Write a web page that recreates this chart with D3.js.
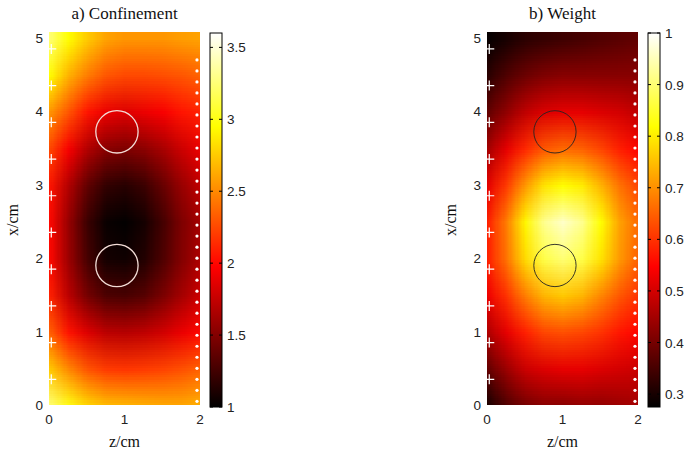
<!doctype html>
<html>
<head>
    <script src="https://d3js.org/d3.v7.min.js"></script>
    <style>
        body { margin: 0; background: #fff; }
        .tick-label { font-family: "Liberation Sans", Arial, sans-serif; font-size: 13.5px; fill: #222; }
        .serif { font-family: "Liberation Serif", "DejaVu Serif", serif; fill: #111; }
    </style>
</head>
<body>

    <svg width="691" height="455"></svg>

    <script>
        // grid nodes (cm)
        var zCols = [0, 0.25, 0.5, 0.75, 1, 1.25, 1.5, 1.75, 2];
        var xRows = [0, 0.5, 1, 1.5, 2, 2.5, 3, 3.5, 4, 4.5, 5];

        // a) confinement, one row per xRows entry (x = 0 first)
        var confinement = [
            [3.25, 3.00, 2.80, 2.70, 2.68, 2.65, 2.63, 2.62, 2.65],
            [2.75, 2.50, 2.30, 2.20, 2.18, 2.20, 2.23, 2.28, 2.35],
            [2.35, 2.05, 1.85, 1.72, 1.70, 1.73, 1.80, 1.90, 2.00],
            [2.10, 1.72, 1.45, 1.30, 1.28, 1.33, 1.47, 1.63, 1.78],
            [2.00, 1.60, 1.27, 1.08, 1.06, 1.13, 1.30, 1.50, 1.66],
            [2.00, 1.58, 1.23, 1.04, 1.01, 1.08, 1.26, 1.48, 1.63],
            [2.05, 1.68, 1.37, 1.19, 1.15, 1.22, 1.39, 1.58, 1.73],
            [2.25, 1.95, 1.68, 1.52, 1.48, 1.53, 1.64, 1.78, 1.90],
            [2.55, 2.30, 2.05, 1.90, 1.85, 1.90, 1.95, 2.05, 2.10],
            [2.95, 2.65, 2.45, 2.30, 2.25, 2.25, 2.27, 2.30, 2.35],
            [3.25, 2.95, 2.75, 2.60, 2.55, 2.55, 2.55, 2.58, 2.60]
        ];

        // b) weight
        var weight = [
            [0.30, 0.36, 0.40, 0.42, 0.42, 0.43, 0.43, 0.44, 0.45],
            [0.38, 0.44, 0.49, 0.51, 0.52, 0.52, 0.51, 0.50, 0.49],
            [0.46, 0.52, 0.58, 0.62, 0.63, 0.62, 0.60, 0.57, 0.55],
            [0.53, 0.60, 0.68, 0.74, 0.76, 0.74, 0.69, 0.64, 0.60],
            [0.58, 0.67, 0.78, 0.87, 0.90, 0.87, 0.79, 0.71, 0.65],
            [0.58, 0.68, 0.81, 0.92, 0.96, 0.92, 0.82, 0.72, 0.66],
            [0.52, 0.61, 0.71, 0.79, 0.82, 0.80, 0.74, 0.67, 0.62],
            [0.45, 0.52, 0.59, 0.64, 0.66, 0.65, 0.62, 0.58, 0.55],
            [0.38, 0.43, 0.48, 0.51, 0.52, 0.52, 0.51, 0.50, 0.48],
            [0.32, 0.36, 0.39, 0.41, 0.42, 0.42, 0.42, 0.42, 0.42],
            [0.28, 0.30, 0.32, 0.33, 0.34, 0.35, 0.36, 0.37, 0.38]
        ];

        var zTicks = [0, 1, 2];
        var xTicks = [0, 1, 2, 3, 4, 5];
        var confTicks = [1, 1.5, 2, 2.5, 3, 3.5];
        var weightTicks = [0.3, 0.4, 0.5, 0.6, 0.7, 0.8, 0.9, 1];

        // objects drawn on top
        var circles = [{z: 0.9, x: 3.72}, {z: 0.9, x: 1.9}];
        var circleR = 0.28;
        var sources = [0.35, 0.85, 1.35, 1.85, 2.35, 2.85, 3.35, 3.85, 4.35, 4.85];
        var detectors = [0.05, 0.20, 0.35, 0.50, 0.65, 0.80, 0.95, 1.10, 1.25, 1.40, 1.55,
            1.70, 1.85, 2.00, 2.15, 2.30, 2.45, 2.60, 2.75, 2.90, 3.05, 3.20, 3.35, 3.50,
            3.65, 3.80, 3.95, 4.10, 4.25, 4.40, 4.55, 4.70];

        var svg = d3.select("svg");

        // matlab "hot"
        function hot(t) {
            t = Math.max(0, Math.min(1, t));
            var r = Math.min(1, t / 0.375),
                g = Math.max(0, Math.min(1, (t - 0.375) / 0.375)),
                b = Math.max(0, (t - 0.75) / 0.25);
            return d3.rgb(r * 255, g * 255, b * 255);
        }

        function panel(o) {
            var z = d3.scaleLinear().domain([0, 2]).range([o.left, o.left + 151]);
            var x = d3.scaleLinear().domain([0, 5.08]).range([405, 32]);
            var c = d3.scaleLinear().domain(o.cdomain).range([0, 1]);

            var g = svg.append("g");

            // field as a small image, pixel centres on grid nodes, smoothed by the browser
            var cv = document.createElement("canvas");
            cv.width = zCols.length;
            cv.height = xRows.length;
            var ctx = cv.getContext("2d");
            var img = ctx.createImageData(cv.width, cv.height);
            o.values.forEach(function(row, j) {
                row.forEach(function(v, i) {
                    var col = hot(c(v));
                    var k = ((cv.height - 1 - j) * cv.width + i) * 4;
                    img.data[k] = col.r; img.data[k + 1] = col.g; img.data[k + 2] = col.b; img.data[k + 3] = 255;
                });
            });
            ctx.putImageData(img, 0, 0);

            var clipId = "clip" + o.id;
            svg.append("clipPath").attr("id", clipId)
                .append("rect")
                .attr("x", z(0)).attr("y", x(5.08))
                .attr("width", z(2) - z(0)).attr("height", x(0) - x(5.08));

            var dz = 0.125, dx = 0.25;
            g.append("image")
                .attr("href", cv.toDataURL())
                .attr("preserveAspectRatio", "none")
                .attr("x", z(-dz)).attr("y", x(5 + dx))
                .attr("width", z(2 + dz) - z(-dz))
                .attr("height", x(-dx) - x(5 + dx))
                .attr("clip-path", "url(#" + clipId + ")");

            // inclusions
            g.selectAll(".inc").data(circles).enter().append("circle")
                .attr("cx", d => z(d.z)).attr("cy", d => x(d.x))
                .attr("r", z(circleR) - z(0))
                .attr("fill", "none")
                .attr("stroke", o.circleColor)
                .attr("stroke-width", o.circleWidth);

            // sources
            g.selectAll(".src").data(sources).enter().append("path")
                .attr("d", d => "M" + (z(0.03) - 5) + "," + x(d) + "h10M" + z(0.03) + "," + (x(d) - 5) + "v10")
                .attr("stroke", "#fff").attr("stroke-width", 1.2);

            // detectors
            g.selectAll(".det").data(detectors).enter().append("circle")
                .attr("cx", z(1.96)).attr("cy", d => x(d))
                .attr("r", 1.6).attr("fill", "#fff");

            // tick labels
            g.selectAll(".zt").data(zTicks).enter().append("text")
                .attr("class", "tick-label")
                .attr("x", d => z(d)).attr("y", 424)
                .attr("text-anchor", "middle")
                .text(d => d);

            g.selectAll(".xt").data(xTicks).enter().append("text")
                .attr("class", "tick-label")
                .attr("x", z(0) - 6).attr("y", d => x(d) + 5)
                .attr("text-anchor", "end")
                .text(d => d);

            g.append("text").attr("class", "serif")
                .attr("x", z(1)).attr("y", 447)
                .attr("text-anchor", "middle")
                .attr("font-size", "16px")
                .text("z/cm");

            g.append("text").attr("class", "serif")
                .attr("transform", "translate(" + (z(0) - 31) + ",220) rotate(-90)")
                .attr("text-anchor", "middle")
                .attr("font-size", "16px")
                .text("x/cm");

            g.append("text").attr("class", "serif")
                .attr("x", z(1)).attr("y", 19)
                .attr("text-anchor", "middle")
                .attr("font-size", "17px")
                .text(o.title);

            // colorbar
            var cbx = o.left + 161, cbw = 12;
            var cy = d3.scaleLinear().domain(o.cdomain).range([407, 33]);
            var gradId = "grad" + o.id;
            var grad = svg.append("defs").append("linearGradient")
                .attr("id", gradId)
                .attr("x1", 0).attr("y1", 1).attr("x2", 0).attr("y2", 0);
            [0, 0.375, 0.75, 1].forEach(function(t) {
                grad.append("stop").attr("offset", t).attr("stop-color", hot(t).formatHex());
            });
            g.append("rect")
                .attr("x", cbx).attr("y", cy(o.cdomain[1]))
                .attr("width", cbw).attr("height", cy(o.cdomain[0]) - cy(o.cdomain[1]))
                .attr("fill", "url(#" + gradId + ")")
                .attr("stroke", "#000").attr("stroke-width", 1);

            g.selectAll(".cbt").data(o.cticks).enter().append("path")
                .attr("d", d => "M" + cbx + "," + cy(d) + "h3M" + (cbx + cbw) + "," + cy(d) + "h-3")
                .attr("stroke", "#000").attr("stroke-width", 1);

            g.selectAll(".cbl").data(o.cticks).enter().append("text")
                .attr("class", "tick-label")
                .attr("x", cbx + cbw + 5).attr("y", d => cy(d) + 5)
                .text(d => d);
        }

        panel({id: "a", left: 49, values: confinement, cdomain: [1, 3.6], cticks: confTicks,
               title: "a) Confinement", circleColor: "#f3dcd6", circleWidth: 1.3});
        panel({id: "b", left: 487, values: weight, cdomain: [0.275, 1], cticks: weightTicks,
               title: "b) Weight", circleColor: "#222", circleWidth: 0.9});
    </script>
</body>
</html>
